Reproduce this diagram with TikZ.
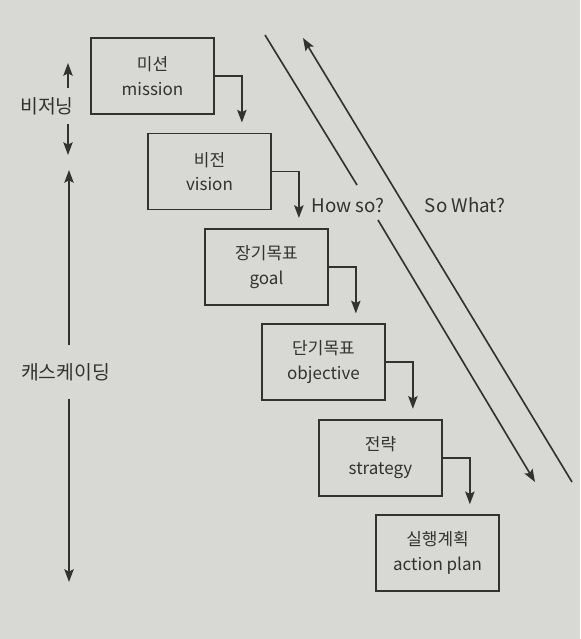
\documentclass[tikz,border=0pt]{standalone}
\usepackage{fontspec}
\setmainfont{Noto Sans CJK KR}
\usetikzlibrary{positioning,calc,arrows.meta}
\definecolor{paper}{RGB}{216,216,213}
\definecolor{ink}{RGB}{50,50,50}

\begin{document}
\begin{tikzpicture}[
    stage/.style={rectangle,draw=ink,line width=1.5pt,minimum width=3.69cm,minimum height=2.28cm,align=center,text=ink,font=\fontsize{14.5}{21}\selectfont},
    side/.style={text=ink,inner xsep=0pt,font=\fontsize{16.5}{18}\selectfont},
    cue/.style={text=ink,font=\fontsize{16}{18}\selectfont},
    flow/.style={->,draw=ink,line width=1.5pt,shorten >=0.3cm},
    >={Stealth[length=3.8mm,width=2.8mm,inset=0.7mm]},
    node distance=0.53cm]

\fill[paper] (0,0) rectangle (17.4,-19.17);
\useasboundingbox (0,0) rectangle (17.4,-19.17);

% cascade of boxes
\node[stage] (mission) at (4.575,-2.28) {미션\\mission};
\node[stage] (vision) [below=of mission,xshift=1.71cm] {비전\\vision};
\node[stage] (goal) [below=of vision,xshift=1.71cm] {장기목표\\goal};
\node[stage] (objective) [below=of goal,xshift=1.71cm] {단기목표\\objective};
\node[stage] (strategy) [below=of objective,xshift=1.71cm] {전략\\strategy};
\node[stage] (action) [below=of strategy,xshift=1.71cm] {실행계획\\action plan};

\draw[flow] (mission.east) -| ([xshift=-0.9cm]vision.north east);
\draw[flow] (vision.east) -| ([xshift=-0.9cm]goal.north east);
\draw[flow] (goal.east) -| ([xshift=-0.9cm]objective.north east);
\draw[flow] (objective.east) -| ([xshift=-0.9cm]strategy.north east);
\draw[flow] (strategy.east) -| ([xshift=-0.9cm]action.north east);

% how so / so what
\node[cue] (howso) at (10.44,-6.15) {How so?};
\node[cue] (sowhat) at (13.95,-6.15) {So What?};
\coordinate (howTop) at (7.95,-1.05);
\coordinate (howGapA) at (10.71,-5.55);
\coordinate (howGapB) at (11.34,-6.6);
\coordinate (howBot) at (16.05,-14.46);
\coordinate (whatTop) at (9.09,-1.14);
\coordinate (whatBot) at (17.16,-14.46);
\draw[ink,line width=1.4pt] (howTop) -- (howGapA);
\draw[->,ink,line width=1.4pt] (howGapB) -- (howBot);
\draw[->,ink,line width=1.4pt] (whatBot) -- (whatTop);

% left side
\node[side,inner ysep=0.28cm] (visioning) at (1.41,-3.18) {비저닝};
\node[side,inner ysep=0.55cm] (cascading) at (1.965,-11.16) {캐스케이딩};
\coordinate (visUp) at (2.04,-1.89);
\coordinate (visDown) at (2.04,-4.65);
\coordinate (casUp) at (2.07,-5.1);
\coordinate (casDown) at (2.07,-17.46);
\draw[->,ink,line width=1.5pt] (visioning.north -| visUp) -- (visUp);
\draw[->,ink,line width=1.5pt] (visioning.south -| visDown) -- (visDown);
\draw[->,ink,line width=1.5pt] (cascading.north -| casUp) -- (casUp);
\draw[->,ink,line width=1.5pt] (cascading.south -| casDown) -- (casDown);
\end{tikzpicture}
\end{document}
